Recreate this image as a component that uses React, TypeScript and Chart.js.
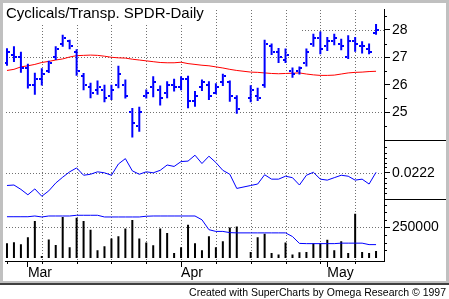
import React, { useEffect, useRef } from 'react';
import { Chart, registerables } from 'chart.js';

Chart.register(...registerables);

const FONT = "'Liberation Sans', Arial, Helvetica, sans-serif";
const BLUE = '#0000ff';
const GRID = '#707070';

const TITLE = 'Cyclicals/Transp. SPDR-Daily';
const FOOTER = 'Created with SuperCharts by Omega Research \u00a9 1997';

// x positions are trading-day indexes (0..53); index 34 has no data
const monthTicks = [3, 25, 46];
const monthLabels = ['Mar', 'Apr', 'May'];
const weekTicks = [0, 5, 10, 15, 20, 25, 30, 35, 40, 45, 50];

const priceTicks = [25, 26, 27, 28];
const priceGrid = [25, 27];
const priceMinor = [24.5, 25.5, 26.5, 27.5, 28.5];
const indicatorTicks = [0.0222];
const indicatorMinor = [0.0274, 0.0263, 0.0253, 0.0243, 0.0233, 0.0211, 0.0201, 0.019, 0.018];
const volumeTicks = [250000];
const volumeMinor = [62500, 125000, 187500, 312500, 375000, 437500];

const high = [27.33, 27.4, 27.2, 26.76, 26.44, 26.6, 26.87, 27.4, 27.82, 27.64,
  27.29, 26.43, 26.07, 26.15, 26.0, 26.0, 26.69, 26.19, 25.15, 25.2,
  25.83, 26.31, 25.97, 26.13, 26.22, 26.31, 26.33, 25.77, 26.19, 26.13,
  26.05, 26.4, 26.15, 25.62, null, 25.98, 25.89, 27.64, 27.5, 27.34,
  27.32, 26.63, 26.66, 27.32, 27.86, 27.94, 27.74, 27.86, 27.68, 27.8,
  27.74, 27.58, 27.5, 28.21];
const low = [26.69, 26.83, 26.44, 25.86, 25.63, 25.97, 26.43, 26.9, 27.38, 27.29,
  26.33, 25.8, 25.51, 25.63, 25.36, 25.44, 25.87, 25.5, 24.08, 24.29,
  25.5, 25.54, 25.24, 25.51, 25.75, 25.8, 25.14, 25.2, 25.77, 25.44,
  25.65, 25.95, 25.38, 24.94, null, 25.36, 25.41, 25.89, 27.08, 26.79,
  26.79, 26.25, 26.37, 26.66, 27.38, 27.11, 27.23, 27.44, 27.26, 26.94,
  27.2, 27.14, 27.11, 27.82];
const open = [26.8, 27.1, 27.0, 26.6, 26.0, 26.2, 26.5, 27.0, 27.5, 27.6,
  27.2, 26.3, 25.9, 25.8, 25.8, 25.6, 26.0, 26.0, 25.0, 24.5,
  25.6, 25.9, 25.8, 25.7, 26.0, 25.9, 26.2, 25.4, 25.9, 26.0,
  25.7, 26.1, 26.1, 25.5, null, 25.5, 25.6, 26.0, 27.4, 27.2,
  26.9, 26.5, 26.5, 26.8, 27.5, 27.7, 27.4, 27.6, 27.5, 27.0,
  27.6, 27.4, 27.3, 27.9];
const close = [27.2, 27.0, 26.6, 26.0, 26.2, 26.4, 26.8, 27.3, 27.7, 27.4,
  26.5, 26.0, 25.7, 25.9, 25.5, 25.8, 26.4, 25.6, 24.6, 25.0,
  25.7, 26.1, 25.5, 26.0, 25.9, 26.2, 25.4, 25.6, 26.1, 25.6,
  25.9, 26.3, 25.6, 25.1, null, 25.8, 25.5, 27.5, 27.2, 27.0,
  27.1, 26.4, 26.6, 27.2, 27.7, 27.3, 27.6, 27.7, 27.4, 27.6,
  27.5, 27.4, 27.2, 28.0];
const movingAvg = [26.52, 26.56, 26.65, 26.69, 26.74, 26.81, 26.85, 26.9, 26.94, 27.01,
  27.06, 27.07, 27.08, 27.07, 27.04, 27.0, 26.98, 26.97, 26.93, 26.9,
  26.87, 26.84, 26.81, 26.8, 26.8, 26.82, 26.77, 26.74, 26.71, 26.69,
  26.65, 26.61, 26.56, 26.52, null, 26.46, 26.45, 26.43, 26.41, 26.4,
  26.41, 26.42, 26.43, 26.39, 26.36, 26.34, 26.34, 26.35, 26.39, 26.43,
  26.45, 26.46, 26.48, 26.49];
const indicator = [0.0196, 0.0197, 0.0188, 0.0177, 0.0189, 0.0174, 0.0185, 0.0201, 0.0213, 0.0224,
  0.0232, 0.0217, 0.0219, 0.0224, 0.0222, 0.0217, 0.024, 0.0251, 0.0226, 0.0219,
  0.0224, 0.0222, 0.0227, 0.0238, 0.0235, 0.0245, 0.0246, 0.0258, 0.0241, 0.0256,
  0.0243, 0.0227, 0.0219, 0.019, null, 0.0196, 0.0199, 0.0218, 0.0209, 0.0209,
  0.0215, 0.0212, 0.0197, 0.0217, 0.0223, 0.0209, 0.0207, 0.0212, 0.0217, 0.0215,
  0.0207, 0.0209, 0.0199, 0.0223];
const volume = [122000, 130000, 114000, 170000, 304000, 16000, 152000, 106000, 336000, 88000,
  330000, 304000, 232000, 64000, 96000, 160000, 178000, 242000, 312000, 160000,
  128000, 104000, 242000, 206000, 42000, 88000, 272000, 122000, 64000, 178000,
  88000, 138000, 250000, 258000, null, 50000, 170000, 198000, 42000, 30000,
  128000, 30000, 48000, 50000, 122000, 122000, 150000, 64000, 138000, 42000,
  362000, 50000, 42000, 58000];
const volumeAvg = [338000, 338000, 338000, 338000, 344000, 336000, 344000, 344000, 344000, 344000,
  350000, 350000, 350000, 350000, 336000, 336000, 336000, 336000, 336000, 336000,
  342000, 344000, 344000, 344000, 344000, 344000, 344000, 344000, 313000, 232000,
  218000, 218000, 208000, 206000, null, 206000, 206000, 206000, 206000, 206000,
  206000, 176000, 120000, 118000, 118000, 118000, 118000, 118000, 122000, 122000,
  122000, 122000, 110000, 110000];

const pts = (arr: (number | null)[]) =>
  arr.map((v, i) => (v == null ? null : { x: i, y: v })).filter((p) => p !== null);

export default function App() {
  const ref = useRef<HTMLCanvasElement>(null);

  useEffect(() => {
    document.body.style.margin = '0';
    const canvas = ref.current!;

    const mkTick = (side: 'open' | 'close') => {
      const c = document.createElement('canvas');
      c.width = 6;
      c.height = 2;
      const g = c.getContext('2d')!;
      g.fillStyle = BLUE;
      g.fillRect(side === 'open' ? 0 : 4, 0, 2, 2);
      return c;
    };

    const line = (ctx: CanvasRenderingContext2D, x1: number, y1: number, x2: number, y2: number) => {
      ctx.beginPath();
      ctx.moveTo(x1, y1);
      ctx.lineTo(x2, y2);
      ctx.stroke();
    };

    const TITLE_BOX = { x: 3, y: 3, w: 201, h: 20 };

    const decor = {
      id: 'decor',
      beforeDraw(chart: any) {
        const ctx = chart.ctx;
        ctx.save();
        ctx.fillStyle = '#ffffff';
        ctx.fillRect(0, 0, chart.width, chart.height);
        ctx.restore();
      },
      beforeDatasetsDraw(chart: any) {
        const ctx = chart.ctx as CanvasRenderingContext2D;
        const { x, yP, yI, yV } = chart.scales;
        const area = chart.chartArea;
        ctx.save();
        ctx.fillStyle = GRID;
        const dotH = (py: number, x1: number, x2: number) => {
          for (let px = Math.round(x1) + 1; px < x2; px += 3) ctx.fillRect(px, py, 1, 1);
        };
        const dotV = (px: number, y1: number, y2: number) => {
          for (let py = Math.round(y1) + 1; py < y2; py += 3) ctx.fillRect(px, py, 1, 1);
        };
        weekTicks.forEach((v) => {
          if (v === 0) return;
          const px = Math.round(x.getPixelForValue(v));
          dotV(px, area.top, area.bottom);
        });
        priceGrid.forEach((v) => dotH(Math.round(yP.getPixelForValue(v)), area.left, area.right));
        // the 28 line shows only right of the title area
        dotH(Math.round(yP.getPixelForValue(28)), x.getPixelForValue(42.2), area.right);
        indicatorTicks.forEach((v) => dotH(Math.round(yI.getPixelForValue(v)), area.left, area.right));
        volumeTicks.forEach((v) => dotH(Math.round(yV.getPixelForValue(v)), area.left, area.right));

        // title with its white box
        ctx.fillStyle = '#ffffff';
        ctx.fillRect(TITLE_BOX.x, TITLE_BOX.y, TITLE_BOX.w, TITLE_BOX.h);
        ctx.fillStyle = '#000';
        ctx.textBaseline = 'alphabetic';
        ctx.textAlign = 'left';
        ctx.font = `15px ${FONT}`;
        ctx.fillText(TITLE, 6, 18);
        ctx.restore();
        ctx.imageSmoothingEnabled = false;
      },
      afterDraw(chart: any) {
        const ctx = chart.ctx as CanvasRenderingContext2D;
        const { x, yP, yI, yV } = chart.scales;
        ctx.save();
        ctx.strokeStyle = '#000';
        ctx.lineWidth = 1;
        const minor = (s: any, vals: number[]) =>
          vals.forEach((v) => {
            const py = Math.round(s.getPixelForValue(v)) + 0.5;
            if (py > s.top && py < s.bottom) line(ctx, s.left, py, s.left + 3, py);
          });
        minor(yP, priceMinor);
        minor(yI, indicatorMinor);
        minor(yV, volumeMinor);
        weekTicks.forEach((v) => {
          const px = Math.round(x.getPixelForValue(v)) + 0.5;
          line(ctx, px, x.top, px, x.top + 3);
        });
        [yP.bottom, yI.bottom].forEach((b: number) => {
          const py = Math.round(b) + 0.5;
          line(ctx, yP.left, py, 446, py);
        });

        // frame
        ctx.fillStyle = '#c0c0c0';
        ctx.fillRect(0, 0, 449, 3);
        ctx.fillRect(0, 0, 3, 283);
        ctx.fillRect(446, 0, 3, 283);
        ctx.fillRect(0, 281, 449, 2);
        ctx.fillStyle = '#404040';
        ctx.fillRect(0, 283, 449, 2);

        ctx.fillStyle = '#000';
        ctx.textAlign = 'right';
        ctx.textBaseline = 'alphabetic';
        ctx.font = `10.5px ${FONT}`;
        ctx.fillText(FOOTER, 446, 296);
        ctx.restore();
      },
    };

    const yAxis = (
      min: number,
      max: number,
      weight: number,
      ticks: number[],
      fmt: (v: number) => string,
      order: number
    ) => ({
      type: 'linear',
      position: 'right',
      stack: 'panels',
      stackWeight: weight,
      weight: order,
      offset: false,
      min,
      max,
      afterBuildTicks: (s: any) => {
        s.ticks = ticks.map((v) => ({ value: v }));
      },
      afterFit: (s: any) => {
        s.width = 62;
      },
      ticks: {
        autoSkip: false,
        padding: 2,
        color: '#000',
        font: { family: FONT, size: 14, lineHeight: 1 },
        callback: (v: number) => fmt(v),
      },
      grid: {
        drawOnChartArea: false,
        tickLength: 6,
        tickColor: '#000',
        tickWidth: 1,
      },
      border: { display: true, color: '#000', width: 1 },
    });

    const config: any = {
      type: 'bar',
      data: {
        datasets: [
          {
            type: 'bar',
            label: 'High-Low',
            data: high
              .map((h, i) => (h == null ? null : { x: i, y: [low[i], h] }))
              .filter((p) => p !== null),
            backgroundColor: BLUE,
            borderWidth: 0,
            barThickness: 2,
            grouped: false,
            inflateAmount: 0,
            yAxisID: 'yP',
            order: 2,
          },
          {
            type: 'line',
            label: 'Open',
            data: pts(open),
            showLine: false,
            pointStyle: mkTick('open'),
            pointRadius: 3,
            yAxisID: 'yP',
            order: 1,
          },
          {
            type: 'line',
            label: 'Close',
            data: pts(close),
            showLine: false,
            pointStyle: mkTick('close'),
            pointRadius: 3,
            yAxisID: 'yP',
            order: 1,
          },
          {
            type: 'line',
            label: 'Average',
            data: pts(movingAvg),
            borderColor: '#ff0000',
            borderWidth: 1,
            pointRadius: 0,
            tension: 0,
            spanGaps: true,
            yAxisID: 'yP',
            order: 5,
          },
          {
            type: 'line',
            label: 'Indicator',
            data: pts(indicator),
            borderColor: BLUE,
            borderWidth: 1,
            pointRadius: 0,
            tension: 0,
            spanGaps: true,
            yAxisID: 'yI',
            order: 4,
          },
          {
            type: 'bar',
            label: 'Volume',
            data: pts(volume),
            backgroundColor: '#000000',
            borderWidth: 0,
            barThickness: 2,
            grouped: false,
            inflateAmount: 0,
            yAxisID: 'yV',
            order: 3,
          },
          {
            type: 'line',
            label: 'Volume average',
            data: pts(volumeAvg),
            borderColor: BLUE,
            borderWidth: 1,
            pointRadius: 0,
            tension: 0,
            spanGaps: true,
            yAxisID: 'yV',
            order: 0,
          },
        ],
      },
      options: {
        responsive: false,
        animation: false,
        devicePixelRatio: 1,
        events: [],
        layout: { padding: { left: 3, top: 3, right: 3, bottom: 17 } },
        plugins: { legend: { display: false }, tooltip: { enabled: false }, title: { display: false } },
        scales: {
          x: {
            type: 'linear',
            position: 'bottom',
            offset: false,
            min: -2 / 7,
            max: 379 / 7,
            afterBuildTicks: (s: any) => {
              s.ticks = monthTicks.map((v) => ({ value: v }));
            },
            afterFit: (s: any) => {
              s.height = 21;
            },
            ticks: {
              autoSkip: false,
              maxRotation: 0,
              minRotation: 0,
              align: 'start',
              padding: -1,
              color: '#000',
              font: { family: FONT, size: 14, lineHeight: 1 },
              callback: (v: number) => {
                const k = monthTicks.indexOf(v);
                return k >= 0 ? monthLabels[k] : '';
              },
            },
            grid: {
              offset: false,
              drawOnChartArea: false,
              tickColor: '#000',
              tickLength: 6,
            },
            border: { display: true, color: '#000', width: 1 },
          },
          yP: yAxis(24, 28.76, 133.7, priceTicks, (v) => String(v), 0),
          yI: yAxis(0.01674, 0.029, 61.3, indicatorTicks, (v) => v.toFixed(4), 1),
          yV: yAxis(-23960, 479200, 63, volumeTicks, (v) => String(v), 2),
        },
      },
      plugins: [decor],
    };

    const chart = new Chart(canvas, config);
    return () => chart.destroy();
  }, []);

  return (
    <div style={{ position: 'absolute', left: 0, top: 0, width: 449, height: 299 }}>
      <canvas ref={ref} width={449} height={299} style={{ display: 'block', width: 449, height: 299 }} />
    </div>
  );
}
